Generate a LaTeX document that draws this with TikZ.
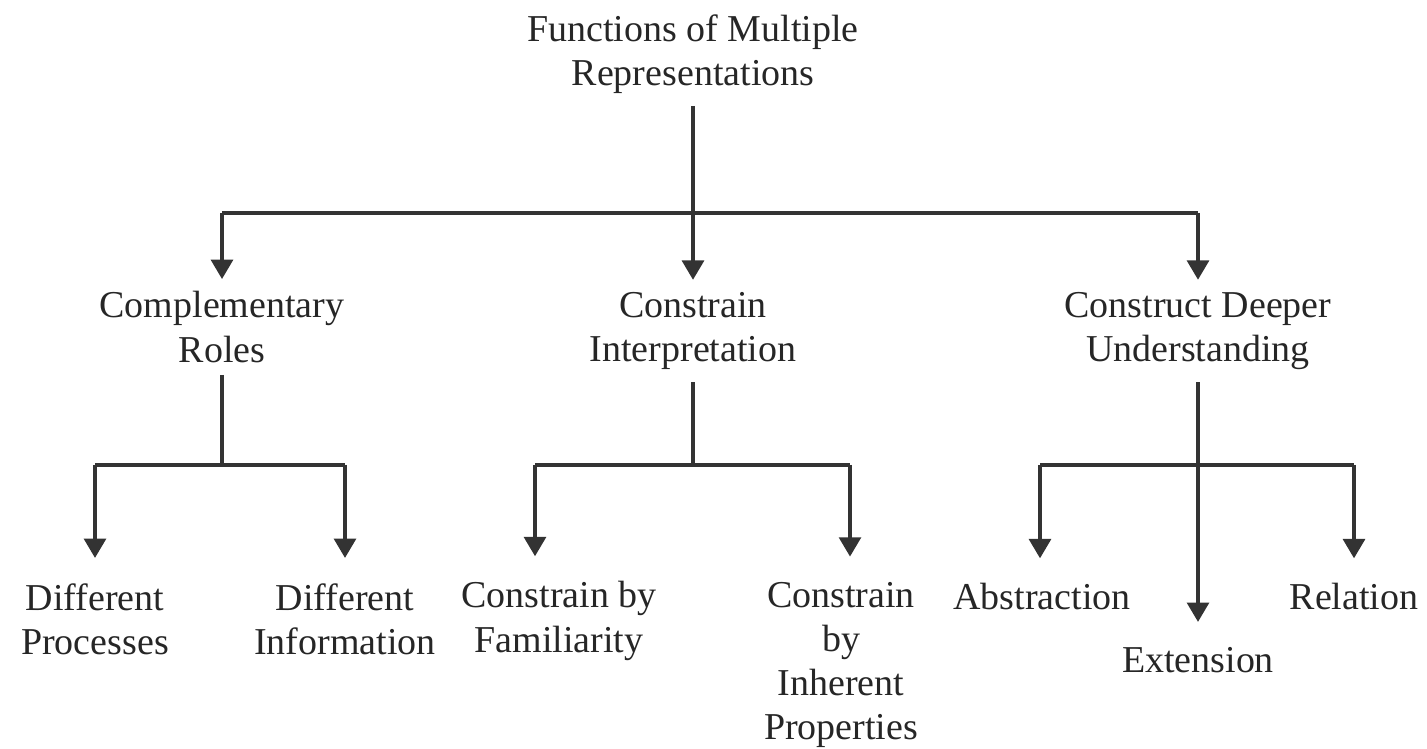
\documentclass[tikz,border=0pt]{standalone}
\usepackage{fontspec}
\setmainfont{Liberation Serif}
\usetikzlibrary{arrows.meta}

\begin{document}
\begin{tikzpicture}[
    x=0.01cm, y=-0.01cm,
    item/.style={align=center, font=\fontsize{10.8}{12.6}\selectfont, text=black!85},
    leaf/.style={item, inner ysep=7pt},
    link/.style={draw=black!80, line width=1pt},
    arrow/.style={link, -{Triangle[length=5.5pt, width=6.2pt]}}
]
  \useasboundingbox (0,0) rectangle (1427,749);

  % Root
  \node[item] (root) at (693,54) {Functions of Multiple\\Representations};

  % Second level
  \node[item] (compl)  at (222,327)  {Complementary\\Roles};
  \node[item] (constr) at (693,331)  {Constrain\\Interpretation};
  \node[item] (deeper) at (1198,331) {Construct Deeper\\Understanding};

  % Third level
  \node[leaf] (proc)  at (95,619)   {Different\\Processes};
  \node[leaf] (info)  at (345,619)  {Different\\Information};
  \node[leaf] (famil) at (559,621)  {Constrain by\\Familiarity};
  \node[leaf] (inher) at (841,665)  {Constrain\\by\\Inherent\\Properties};
  \node[leaf] (abstr) at (1042,597) {Abstraction};
  \node[leaf] (ext)   at (1198,660) {Extension};
  \node[leaf] (rel)   at (1354,597) {Relation};

  % Branch bars
  \coordinate (bar0) at (693,213);
  \coordinate (bar1) at (222,465);
  \coordinate (bar2) at (693,465);
  \coordinate (b2l)  at (535,465);
  \coordinate (b2r)  at (850,465);
  \coordinate (b3l)  at (1040,465);
  \coordinate (b3r)  at (1354,465);

  % Root -> second level
  \draw[link]  (compl.north |- bar0) -- (deeper.north |- bar0);
  \draw[arrow] (root) -- (constr);
  \draw[arrow] (compl.north |- bar0) -- (compl);
  \draw[arrow] (deeper.north |- bar0) -- (deeper);

  % Complementary roles
  \draw[link]  (compl) -- (bar1);
  \draw[link]  (proc.north |- bar1) -- (info.north |- bar1);
  \draw[arrow] (proc.north |- bar1) -- (proc);
  \draw[arrow] (info.north |- bar1) -- (info);

  % Constrain interpretation
  \draw[link]  (constr) -- (bar2);
  \draw[link]  (b2l) -- (b2r);
  \draw[arrow] (b2l) -- (b2l |- famil.north);
  \draw[arrow] (b2r) -- (b2r |- inher.north);

  % Deeper understanding
  \draw[link]  (b3l) -- (b3r);
  \draw[arrow] (deeper) -- (ext);
  \draw[arrow] (b3l) -- (b3l |- abstr.north);
  \draw[arrow] (b3r) -- (b3r |- rel.north);
\end{tikzpicture}
\end{document}
